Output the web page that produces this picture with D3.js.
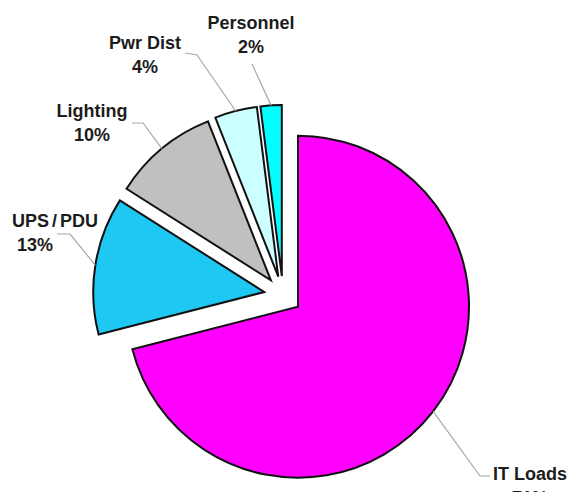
<!DOCTYPE html>
<html>
<head>
<meta charset="utf-8">
<script src="https://cdn.jsdelivr.net/npm/d3@7"></script>
<style>
  html, body { margin: 0; padding: 0; background: #ffffff; }
  svg { display: block; }
  .lbl { font-family: "Liberation Sans", Arial, sans-serif; font-weight: bold; font-size: 18px; fill: #1c1c1c; }
</style>
</head>
<body>
<svg id="chart" width="568" height="492"></svg>
<script>
// Data centre power breakdown
const categories = ["IT Loads", "UPS/PDU", "Lighting", "Pwr Dist", "Personnel"];
const shares = [71, 13, 10, 4, 2];
const percentLabels = ["71%", "13%", "10%", "4%", "2%"];
const sliceColors = ["#ff00ff", "#1ec8f2", "#c0c0c0", "#ccffff", "#00ffff"];

// Label placement: text position, anchor, leader start and optional elbow
const labelLayout = [
  { x: 530, y: 480, anchor: "middle", start: [490, 476], elbow: [480, 476] },
  { x: 12,  y: 227, anchor: "start",  start: [57, 234],  elbow: [70, 234], pctX: 17, pctAnchor: "start" },
  { x: 92,  y: 117, anchor: "middle", start: [132, 123], elbow: [143, 123] },
  { x: 145, y: 49,  anchor: "middle", start: [185, 53],  elbow: [197, 55] },
  { x: 251, y: 29,  anchor: "middle", start: [252, 64],  elbow: null }
];

const width = 568, height = 492;
const cx = 283, cy = 295;       // pie centre
const radius = 171;
const explode = 19;
const lineGap = 24;

const svg = d3.select("#chart");

const pie = d3.pie().sort(null).value(d => d)
  .startAngle(0).endAngle(2 * Math.PI);
const arcs = pie(shares);

const arc = d3.arc().innerRadius(0).outerRadius(radius);

const g = svg.append("g").attr("transform", `translate(${cx},${cy})`);

function offset(d, dist) {
  const mid = (d.startAngle + d.endAngle) / 2;
  return [dist * Math.sin(mid), -dist * Math.cos(mid)];
}

// Leader lines (drawn under the slices)
const leaders = svg.append("g");
arcs.forEach((d, i) => {
  const [ox, oy] = offset(d, explode);
  const [px, py] = offset(d, radius);
  const end = [cx + ox + px, cy + oy + py];
  const L = labelLayout[i];
  const pts = [L.start];
  if (L.elbow) pts.push(L.elbow);
  pts.push(end);
  leaders.append("path")
    .attr("d", d3.line()(pts))
    .attr("fill", "none")
    .attr("stroke", "#a6a6a6")
    .attr("stroke-width", 1.2);
});

// Slices, each pushed out from the centre
g.selectAll("path.slice")
  .data(arcs)
  .join("path")
  .attr("class", "slice")
  .attr("d", arc)
  .attr("transform", d => {
    const [ox, oy] = offset(d, explode);
    return `translate(${ox},${oy})`;
  })
  .attr("fill", (d, i) => sliceColors[i])
  .attr("stroke", "#111111")
  .attr("stroke-width", 2)
  .attr("stroke-linejoin", "miter");

// Labels: category name above, percentage below
const labels = svg.append("g");
categories.forEach((name, i) => {
  const L = labelLayout[i];
  const t = labels.append("text")
    .attr("class", "lbl")
    .attr("x", L.x).attr("y", L.y)
    .attr("text-anchor", L.anchor);
  if (name.includes("/")) {
    const parts = name.split("/");
    t.append("tspan").text(parts[0]);
    t.append("tspan").attr("dx", 3).text("/");
    t.append("tspan").attr("dx", 3).text(parts[1]);
  } else {
    t.text(name);
  }
  labels.append("text")
    .attr("class", "lbl")
    .attr("x", L.pctX !== undefined ? L.pctX : L.x)
    .attr("y", L.y + lineGap)
    .attr("text-anchor", L.pctAnchor || L.anchor)
    .text(percentLabels[i]);
});
</script>
</body>
</html>
